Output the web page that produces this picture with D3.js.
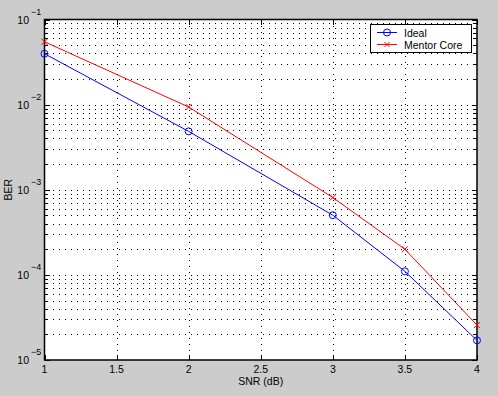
<!DOCTYPE html>
<html>
<head>
<meta charset="utf-8">
<script src="https://cdn.jsdelivr.net/npm/d3@7"></script>
<style>
  html, body { margin: 0; padding: 0; background: #cccccc; }
  svg { display: block; font-family: "Liberation Sans", Arial, sans-serif; }
</style>
</head>
<body>
<script>
const snr = [1, 2, 3, 3.5, 4];
const ideal = [0.0396, 0.00485, 0.000502, 0.00011, 0.000017];
const mentor = [0.0547, 0.00937, 0.00081, 0.0002, 0.0000257];
const xTicks = [1, 1.5, 2, 2.5, 3, 3.5, 4];
const yExps = [-5, -4, -3, -2, -1];

const width = 498, height = 396;
const margin = { top: 19.5, right: 21, bottom: 36, left: 44.5 };

const svg = d3.select("body").append("svg")
  .attr("width", width)
  .attr("height", height);

svg.append("rect").attr("width", width).attr("height", height).attr("fill", "#cccccc");

const x = d3.scaleLinear().domain([1, 4]).range([margin.left, width - margin.right]);
const y = d3.scaleLog().domain([1e-5, 1e-1]).range([height - margin.bottom, margin.top]);

const x0 = x.range()[0], x1 = x.range()[1];
const y0 = y.range()[0], y1 = y.range()[1];

svg.append("rect")
  .attr("x", x0).attr("y", y1)
  .attr("width", x1 - x0).attr("height", y0 - y1)
  .attr("fill", "#fff");

// minor values per decade
const minors = [];
for (let e = -5; e < -1; e++) {
  for (let m = 2; m <= 9; m++) minors.push(m * Math.pow(10, e));
}
const majors = yExps.map(e => Math.pow(10, e));

// grid (dotted)
const grid = svg.append("g")
  .attr("stroke", "#000")
  .attr("stroke-width", 1)
  .attr("shape-rendering", "crispEdges")
  .attr("stroke-dasharray", "1,5");

grid.selectAll(".gx")
  .data(xTicks.slice(1, -1))
  .join("line")
  .attr("x1", d => Math.round(x(d)) + 0.5).attr("x2", d => Math.round(x(d)) + 0.5)
  .attr("y1", y1).attr("y2", y0);

grid.selectAll(".gy")
  .data(minors.concat(majors.slice(1, -1)))
  .join("line")
  .attr("y1", d => Math.round(y(d)) + 0.5).attr("y2", d => Math.round(y(d)) + 0.5)
  .attr("x1", x0 + 2).attr("x2", x1);

// ticks (inward)
const ticks = svg.append("g").attr("stroke", "#000").attr("stroke-width", 1)
  .attr("shape-rendering", "crispEdges");
xTicks.forEach(d => {
  const px = Math.round(x(d)) + 0.5;
  ticks.append("line").attr("x1", px).attr("x2", px).attr("y1", y0).attr("y2", y0 - 5);
  ticks.append("line").attr("x1", px).attr("x2", px).attr("y1", y1).attr("y2", y1 + 5);
});
majors.concat(minors).forEach(d => {
  const py = Math.round(y(d)) + 0.5;
  const len = majors.includes(d) ? 5 : 3;
  ticks.append("line").attr("x1", x0).attr("x2", x0 + len).attr("y1", py).attr("y2", py);
  ticks.append("line").attr("x1", x1).attr("x2", x1 - len).attr("y1", py).attr("y2", py);
});

// frame
svg.append("rect")
  .attr("x", x0).attr("y", y1)
  .attr("width", x1 - x0).attr("height", y0 - y1)
  .attr("fill", "none").attr("stroke", "#000").attr("stroke-width", 1.5);

// tick labels
svg.append("g")
  .attr("font-size", 10.5)
  .attr("text-anchor", "middle")
  .selectAll("text")
  .data(xTicks)
  .join("text")
  .attr("x", d => x(d))
  .attr("y", y0 + 13)
  .text(d => d);

const yl = svg.append("g").attr("font-size", 10.5);
yExps.forEach(e => {
  const py = y(Math.pow(10, e));
  yl.append("text").attr("x", 29).attr("y", py + 4).attr("text-anchor", "end").text("10");
  yl.append("text").attr("x", 31).attr("y", py - 5).attr("font-size", 9).text(String(e).replace("-", "\u2212"));
});

svg.append("text")
  .attr("x", (x0 + x1) / 2).attr("y", 385)
  .attr("text-anchor", "middle").attr("font-size", 10.5)
  .text("SNR (dB)");

svg.append("text")
  .attr("transform", `translate(12,${(y0 + y1) / 2}) rotate(-90)`)
  .attr("text-anchor", "middle").attr("font-size", 10.5)
  .text("BER");

// series
const line = d3.line().x((d, i) => x(snr[i])).y(d => y(d));

svg.append("path").datum(mentor)
  .attr("fill", "none").attr("stroke", "#ff0000").attr("stroke-width", 1)
  .attr("d", line);
svg.append("path").datum(ideal)
  .attr("fill", "none").attr("stroke", "#0000ff").attr("stroke-width", 1)
  .attr("d", line);

function cross(g, cx, cy, r) {
  g.append("path")
    .attr("d", `M${cx - r},${cy - r}L${cx + r},${cy + r}M${cx - r},${cy + r}L${cx + r},${cy - r}`)
    .attr("stroke", "#ff0000").attr("stroke-width", 1).attr("fill", "none");
}
const mk = svg.append("g");
mentor.forEach((d, i) => cross(mk, x(snr[i]), y(d), 3));
mk.selectAll("circle")
  .data(ideal)
  .join("circle")
  .attr("cx", (d, i) => x(snr[i]))
  .attr("cy", d => y(d))
  .attr("r", 3.5)
  .attr("fill", "none").attr("stroke", "#0000ff").attr("stroke-width", 1);

// legend
const lg = svg.append("g");
lg.append("rect")
  .attr("x", 370.5).attr("y", 24.5).attr("width", 101).attr("height", 28)
  .attr("fill", "#fff").attr("stroke", "#000").attr("stroke-width", 1);
lg.append("line").attr("x1", 377).attr("x2", 397).attr("y1", 32.5).attr("y2", 32.5)
  .attr("stroke", "#0000ff");
lg.append("circle").attr("cx", 387).attr("cy", 32.5).attr("r", 3.5)
  .attr("fill", "none").attr("stroke", "#0000ff");
lg.append("line").attr("x1", 377).attr("x2", 397).attr("y1", 44.5).attr("y2", 44.5)
  .attr("stroke", "#ff0000");
cross(lg, 387, 44.5, 2.5);
lg.append("text").attr("x", 404).attr("y", 36.5).attr("font-size", 10.5).text("Ideal");
lg.append("text").attr("x", 404).attr("y", 48.5).attr("font-size", 10.5).text("Mentor Core");
</script>
</body>
</html>
